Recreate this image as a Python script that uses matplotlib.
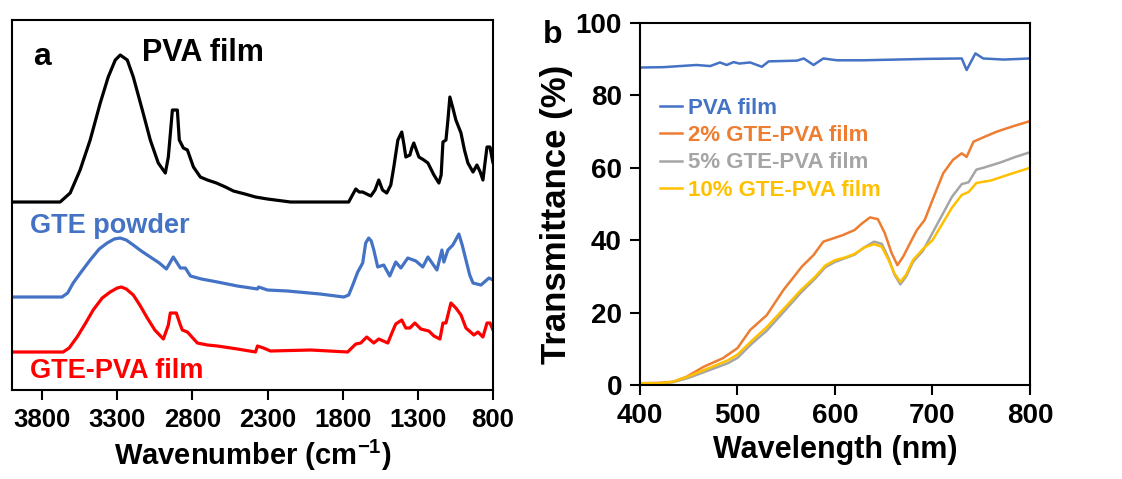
import matplotlib
matplotlib.use("Agg")
import matplotlib.pyplot as plt

plt.rcParams['font.family'] = ['Liberation Sans', 'DejaVu Sans']
plt.rcParams['font.weight'] = 'bold'
plt.rcParams['mathtext.fontset'] = 'custom'
plt.rcParams['mathtext.rm'] = 'Liberation Sans:bold'
plt.rcParams['mathtext.bf'] = 'Liberation Sans:bold'

# ---------------- Panel a: FTIR (offset, arbitrary units) ----------------
pva_wn = [4000, 3680, 3613, 3547, 3480, 3413, 3360, 3313, 3280, 3233, 3193, 3133, 3080, 3027,
          2980, 2960, 2933, 2900, 2887, 2860, 2833, 2793, 2747, 2700, 2640, 2580, 2527, 2450,
          2380, 2300, 2147, 1760, 1735, 1713, 1690, 1667, 1613, 1585, 1560, 1535, 1507, 1480,
          1460, 1433, 1407, 1392, 1380, 1353, 1340, 1327, 1310, 1293, 1260, 1233, 1193, 1160,
          1145, 1133, 1113, 1100, 1087, 1067, 1047, 1013, 990, 967, 933, 907, 885, 867, 855,
          840, 820, 800]
pva_y = [188, 188, 197, 220, 250, 287, 313, 330, 335, 330, 313, 280, 250, 227,
         217, 233, 280, 280, 250, 242, 240, 223, 213, 210, 207, 203, 199, 196,
         193, 191, 188, 188, 195, 201, 198, 198, 194, 200, 210, 200, 197, 205,
         223, 250, 258, 245, 233, 235, 242, 247, 240, 233, 230, 227, 215, 207,
         215, 248, 250, 270, 293, 282, 270, 257, 240, 227, 218, 225, 218, 210, 225,
         243, 243, 227]

gte_wn = [4000, 3667, 3630, 3593, 3540, 3480, 3420, 3367, 3320, 3280, 3240, 3193, 3140, 3080,
          3020, 2973, 2927, 2880, 2847, 2813, 2740, 2633, 2500, 2367, 2360, 2300, 2167, 1950,
          1793, 1760, 1733, 1700, 1667, 1647, 1627, 1610, 1593, 1567, 1527, 1487, 1447, 1413,
          1367, 1313, 1267, 1233, 1173, 1140, 1127, 1100, 1067, 1027, 1005, 980, 955, 933,
          880, 827, 800]
gte_y = [93, 93, 97, 107, 118, 130, 141, 147, 151, 152, 150, 145, 139, 133,
         127, 121, 133, 122, 122, 114, 111, 108, 104, 101, 103, 100, 99, 96,
         93, 95, 105, 118, 127, 147, 152, 149, 140, 123, 125, 114, 128, 122,
         132, 129, 123, 133, 120, 140, 128, 140, 145, 156, 145, 130, 115, 107,
         105, 112, 110]

film_wn = [4000, 3660, 3620, 3567, 3510, 3460, 3400, 3347, 3300, 3273, 3240, 3193, 3150, 3100,
           3050, 2993, 2960, 2947, 2907, 2880, 2867, 2833, 2767, 2700, 2633, 2500, 2380, 2367,
           2327, 2280, 2013, 1767, 1713, 1680, 1640, 1593, 1560, 1500, 1470, 1447, 1407, 1380,
           1353, 1320, 1280, 1227, 1193, 1153, 1133, 1113, 1080, 1047, 1013, 980, 927, 900,
           867, 840, 820, 800]
film_y = [38, 38, 42, 53, 67, 80, 92, 98, 102, 103, 101, 95, 85, 72,
          60, 51, 65, 77, 77, 65, 60, 58, 47, 45, 44, 41, 38, 44,
          42, 39, 40, 38, 46, 47, 53, 47, 51, 47, 58, 66, 70, 62,
          62, 67, 61, 59, 54, 51, 67, 67, 87, 82, 75, 62, 55, 58,
          53, 67, 67, 60]

ftir_ticks = [3800, 3300, 2800, 2300, 1800, 1300, 800]

# ---------------- Panel b: UV-vis transmittance ----------------
wl_pva = [400, 424, 458, 472, 482, 489, 496, 502, 513, 525, 532, 561, 568, 578, 588, 602,
          629, 663, 697, 730, 735, 744, 752, 773, 800]
t_pva = [87.7, 87.8, 88.4, 88.1, 89.1, 88.4, 89.2, 88.8, 89.1, 87.9, 89.4, 89.6, 90.2, 88.4,
         90.2, 89.7, 89.7, 89.9, 90.1, 90.2, 87.0, 91.6, 90.2, 89.9, 90.2]

wl_2 = [400, 420, 434, 448, 465, 485, 500, 513, 530, 547, 566, 578, 588, 598, 608, 620,
        628, 636, 644, 651, 658, 664, 670, 677, 684, 692, 700, 711, 721, 730, 735, 742,
        752, 766, 783, 800]
t_2 = [0.5, 0.6, 0.9, 2.3, 5.0, 7.4, 10.2, 15.2, 19.3, 26.2, 32.7, 35.9, 39.6, 40.5, 41.4, 42.8,
       44.7, 46.3, 45.8, 42.0, 36.5, 33.1, 35.5, 39.2, 42.8, 45.6, 51.1, 58.5, 62.2, 64.0, 63.0,
       67.2, 68.4, 70.0, 71.5, 72.9]

wl_5 = [400, 420, 434, 450, 470, 490, 500, 515, 530, 550, 565, 580, 590, 600, 610, 620,
        630, 640, 648, 655, 661, 667, 673, 680, 690, 700, 710, 720, 730, 737, 745, 752,
        770, 785, 800]
t_5 = [0.4, 0.4, 0.8, 2.0, 4.0, 6.0, 7.5, 11.5, 15.0, 21.0, 25.5, 29.5, 32.5, 34.0, 35.0, 36.0,
       38.0, 39.6, 39.0, 35.0, 30.5, 27.8, 30.0, 34.0, 37.0, 42.0, 47.0, 52.0, 55.5, 56.0, 59.5,
       60.0, 61.5, 63.0, 64.3]

wl_10 = [400, 420, 434, 450, 470, 490, 500, 515, 530, 550, 565, 580, 590, 600, 610, 620,
         630, 640, 648, 655, 661, 667, 673, 680, 690, 700, 710, 720, 730, 737, 745, 760,
         780, 800]
t_10 = [0.5, 0.5, 0.9, 2.4, 4.6, 6.8, 8.4, 12.3, 16.0, 21.8, 26.2, 30.0, 33.0, 34.5, 35.2, 36.2,
        38.0, 38.9, 38.2, 34.5, 30.8, 28.5, 30.5, 34.5, 37.5, 40.0, 44.5, 49.0, 52.5, 53.3, 55.8,
        56.5, 58.3, 60.0]

uv_labels = ['PVA film', '2% GTE-PVA film', '5% GTE-PVA film', '10% GTE-PVA film']
uv_colors = ['#4472C4', '#ED7D31', '#A5A5A5', '#FFC000']

fig = plt.figure(figsize=(11.22, 4.79), dpi=100)

# ---- panel a ----
axa = fig.add_axes([0.0107, 0.1858, 0.4287, 0.7724])
for x, y, c in [(pva_wn, pva_y, 'black'), (gte_wn, gte_y, '#4472C4'), (film_wn, film_y, '#FF0000')]:
    axa.plot(x, y, color=c, lw=2.3, solid_joinstyle='round', solid_capstyle='round')
axa.set_xlim(4000, 800)
axa.set_ylim(0, 370)
axa.set_xticks(ftir_ticks)
axa.set_xticklabels([str(t) for t in ftir_ticks])
axa.set_yticks([])
axa.tick_params(axis='x', direction='out', length=7, width=1.5, labelsize=18.5, pad=6)
for s in axa.spines.values():
    s.set_linewidth(1.5)
axa.set_xlabel('Wavenumber (cm$^{-1}$)', fontsize=21, fontweight='bold', labelpad=4)
axa.text(0.044, 0.90, 'a', transform=axa.transAxes, fontsize=23, fontweight='bold', va='center')
axa.text(0.27, 0.911, 'PVA film', transform=axa.transAxes, fontsize=22, fontweight='bold',
         va='center', color='black')
axa.text(0.037, 0.443, 'GTE powder', transform=axa.transAxes, fontsize=19.5, fontweight='bold',
         va='center', color='#4472C4')
axa.text(0.037, 0.051, 'GTE-PVA film', transform=axa.transAxes, fontsize=19.5, fontweight='bold',
         va='center', color='#FF0000')

# ---- panel b ----
axb = fig.add_axes([0.5704, 0.1962, 0.3476, 0.7558])
series = [(wl_pva, t_pva), (wl_2, t_2), (wl_5, t_5), (wl_10, t_10)]
for (x, y), lab, c in zip(series, uv_labels, uv_colors):
    axb.plot(x, y, color=c, lw=1.8, label=lab, solid_joinstyle='round')
axb.set_xlim(400, 800)
axb.set_ylim(0, 100)
axb.set_xticks([400, 500, 600, 700, 800])
axb.set_yticks([0, 20, 40, 60, 80, 100])
axb.tick_params(direction='out', length=7, width=1.5, labelsize=20, pad=6)
for s in axb.spines.values():
    s.set_linewidth(1.5)
axb.set_xlabel('Wavelength (nm)', fontsize=22, fontweight='bold', labelpad=4)
axb.set_ylabel('Transmittance (%)', fontsize=25, fontweight='bold')
axb.yaxis.set_label_coords(-0.172, 0.47)
leg = axb.legend(loc='upper left', bbox_to_anchor=(0.0, 0.848), frameon=False,
                 handlelength=1.0, handletextpad=0.25, labelspacing=0.28,
                 prop={'weight': 'bold', 'size': 16}, labelcolor='linecolor')
fig.text(553 / 1122, 1 - 35 / 479, 'b', fontsize=23, fontweight='bold', ha='center', va='center')

fig.savefig('out.png', dpi=100)
